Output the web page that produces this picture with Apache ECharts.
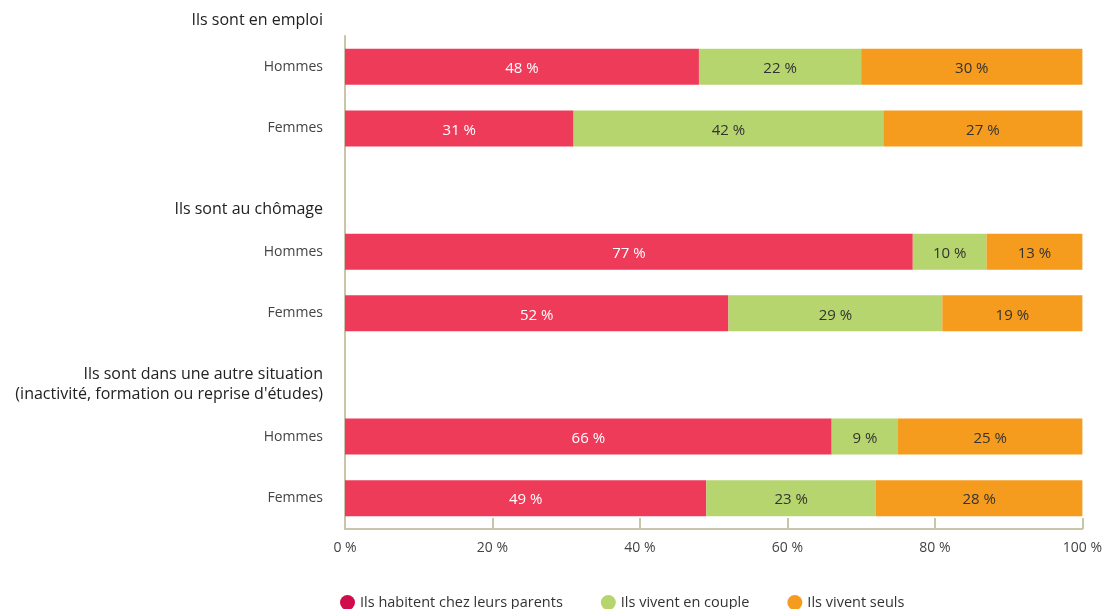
<!DOCTYPE html>
<html>
<head>
<meta charset="utf-8">
<script src="https://cdn.jsdelivr.net/npm/echarts@6/dist/echarts.min.js"></script>
<style>
  html, body { margin: 0; padding: 0; background: #fff; }
  #main { width: 1105px; height: 609px; }
</style>
</head>
<body>
<div id="main"></div>
<script>
// catégories de l'axe vertical (les en-têtes de groupe occupent une ligne vide)
var header1 = "Ils sont en emploi";
var categories = [
  "Hommes", "Femmes",
  "Ils sont au chômage",
  "Hommes", "Femmes",
  "Ils sont dans une autre situation\n(inactivité, formation ou reprise d'études)",
  "Hommes", "Femmes"
];
var headerIdx = [2, 5];
var seriesNames = ["Ils habitent chez leurs parents", "Ils vivent en couple", "Ils vivent seuls"];
var parents = [48, 31, null, 77, 52, null, 66, 49];
var couple  = [22, 42, null, 10, 29, null, 9, 23];
var seuls   = [30, 27, null, 13, 19, null, 25, 28];
var xTicks = [0, 20, 40, 60, 80, 100];

var colors = ["#ee3b5a", "#b6d56f", "#f59c1e"];
var legendColors = ["#d00c4c", "#b6d56f", "#f59c1e"];
var font = "'Open Sans', 'Noto Sans', sans-serif";

var chart = echarts.init(document.getElementById("main"));

function barSeries(name, data, color, labelColor) {
  return {
    name: name,
    type: "bar",
    stack: "total",
    barWidth: 36,
    itemStyle: { color: color },
    label: {
      show: true,
      position: "inside",
      offset: [0, 2],
      color: labelColor,
      fontFamily: font,
      fontSize: 15,
      formatter: function (p) { return p.value + " %"; }
    },
    data: data
  };
}

chart.setOption({
  animation: false,
  grid: { left: 345, right: 20, top: 36, bottom: 80 },
  legend: {
    left: 335,
    top: 590,
    icon: "circle",
    itemWidth: 15,
    itemHeight: 15,
    itemGap: 38,
    textStyle: { fontFamily: font, fontSize: 14.5, color: "#333" },
    data: seriesNames.map(function (n, i) {
      return { name: n, itemStyle: { color: legendColors[i] } };
    })
  },
  xAxis: {
    type: "value",
    min: 0,
    max: 100,
    interval: 20,
    splitLine: { show: false },
    axisLine: { show: true, lineStyle: { color: "#c9c5a8", width: 2 } },
    axisTick: { show: true, inside: true, length: 11, lineStyle: { color: "#c9c5a8", width: 2 } },
    axisLabel: {
      margin: 12,
      fontFamily: font,
      fontSize: 14,
      color: "#444",
      formatter: function (v) { return xTicks.indexOf(v) >= 0 ? v + " %" : ""; }
    }
  },
  yAxis: {
    type: "category",
    inverse: true,
    data: categories,
    axisLine: { show: true, lineStyle: { color: "#c9c5a8", width: 2 } },
    axisTick: { show: false },
    axisLabel: {
      margin: 22,
      fontFamily: font,
      fontSize: 14,
      color: "#444",
      formatter: function (v, i) { return headerIdx.indexOf(i) >= 0 ? "" : v; }
    }
  },
  series: [
    barSeries(seriesNames[0], parents, colors[0], "#fff"),
    barSeries(seriesNames[1], couple, colors[1], "#333"),
    barSeries(seriesNames[2], seuls, colors[2], "#333")
  ]
});

// en-têtes de groupe placés d'après l'axe des catégories
var y0 = chart.convertToPixel({ yAxisIndex: 0 }, 0);
var y1 = chart.convertToPixel({ yAxisIndex: 0 }, 1);
var step = y1 - y0;
var headers = [{ text: header1, y: y0 - step - 2 }];
headerIdx.forEach(function (i) {
  headers.push({ text: categories[i], y: chart.convertToPixel({ yAxisIndex: 0 }, i) + 2 });
});
chart.setOption({
  graphic: headers.map(function (h) {
    return {
      type: "text",
      right: 1105 - 323,
      y: h.y + 27,
      style: {
        text: h.text,
        align: "right",
        verticalAlign: "bottom",
        fontFamily: font,
        fontSize: 16,
        lineHeight: 20,
        fill: "#222"
      }
    };
  })
});
</script>
</body>
</html>
